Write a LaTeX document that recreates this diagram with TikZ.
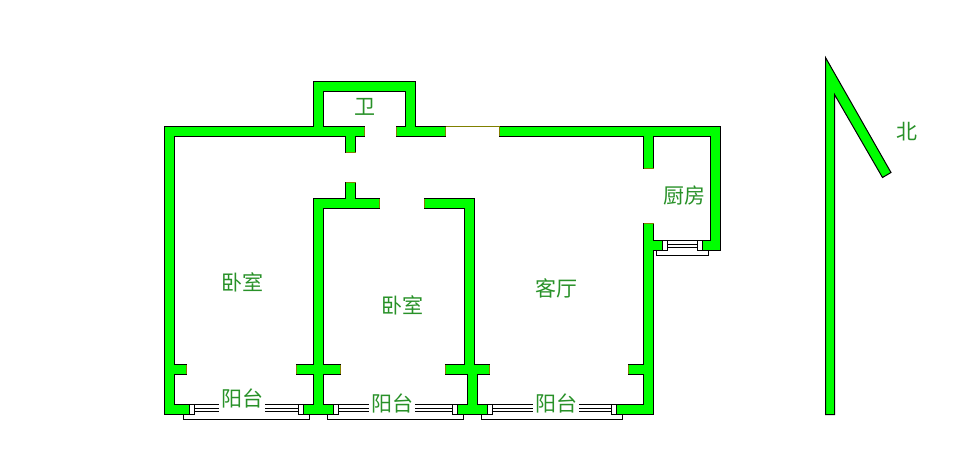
\documentclass[tikz,border=0pt]{standalone}
\usepackage{fontspec}
\newfontfamily\cjk{Noto Sans CJK SC}
\definecolor{wallgreen}{RGB}{0,255,0}
\definecolor{endolive}{RGB}{128,128,0}
\definecolor{labelgreen}{RGB}{40,145,40}
\tikzset{
  wall/.style={draw=black,fill=wallgreen,line width=1pt,line join=miter},
  wallend/.style={draw=endolive,line width=1pt},
  winbox/.style={draw=black,fill=white,line width=1pt},
  winline/.style={draw=black,line width=1pt},
  label/.style={font=\cjk\fontsize{21}{21}\selectfont,text=labelgreen,inner sep=0pt}
}
\newcommand{\winlines}[2]{%
  \draw[winline] (#1,404.5) -- (#2,404.5) (#1,408.5) -- (#2,408.5) (#1,411.5) -- (#2,411.5);}
\begin{document}
\begin{tikzpicture}[x=1pt,y=-1pt]
\useasboundingbox (0,0) rectangle (955,469);
% balconies
\draw[winline] (183.5,414) -- (183.5,419.5) -- (309.5,419.5) -- (309.5,414);
\draw[winline] (327.5,414) -- (327.5,419.5) -- (463.5,419.5) -- (463.5,414);
\draw[winline] (481.5,414) -- (481.5,419.5) -- (622.5,419.5) -- (622.5,414);
\draw[winline] (656.5,250) -- (656.5,255.5) -- (708.5,255.5) -- (708.5,250);
% window lines
\winlines{194.5}{219}\winlines{265}{298}
\winlines{338.5}{369}\winlines{415}{452.5}
\winlines{492.5}{533}\winlines{579}{611}
\draw[winline] (667.5,240.5) -- (697.5,240.5) (667.5,244.5) -- (697.5,244.5) (667.5,247.5) -- (697.5,247.5);
% window boxes
\foreach \a/\b in {189.5/194.5,298.5/303.5,333.5/338.5,452.5/457.5,487.5/492.5,611.5/616.5}
  \draw[winbox] (\a,404.5) rectangle (\b,414.5);
\foreach \a/\b in {662.5/667.5,697.5/702.5}
  \draw[winbox] (\a,240.5) rectangle (\b,250.5);
% walls
\draw[wall] (164.5,126.5) -- (313.5,126.5) -- (313.5,81.5) -- (415.5,81.5) -- (415.5,126.5) -- (445.5,126.5) -- (445.5,136.5) -- (396.5,136.5) -- (396.5,126.5) -- (405.5,126.5) -- (405.5,91.5) -- (323.5,91.5) -- (323.5,126.5) -- (364.5,126.5) -- (364.5,136.5) -- (355.5,136.5) -- (355.5,152.5) -- (345.5,152.5) -- (345.5,136.5) -- (174.5,136.5) -- (174.5,364.5) -- (186.5,364.5) -- (186.5,374.5) -- (174.5,374.5) -- (174.5,404.5) -- (189.5,404.5) -- (189.5,414.5) -- (164.5,414.5) -- cycle;
\draw[wall] (345.5,182.5) -- (355.5,182.5) -- (355.5,198.5) -- (379.5,198.5) -- (379.5,208.5) -- (323.5,208.5) -- (323.5,364.5) -- (340.5,364.5) -- (340.5,374.5) -- (323.5,374.5) -- (323.5,404.5) -- (333.5,404.5) -- (333.5,414.5) -- (303.5,414.5) -- (303.5,404.5) -- (313.5,404.5) -- (313.5,374.5) -- (296.5,374.5) -- (296.5,364.5) -- (313.5,364.5) -- (313.5,198.5) -- (345.5,198.5) -- cycle;
\draw[wall] (424.5,198.5) -- (474.5,198.5) -- (474.5,364.5) -- (489.5,364.5) -- (489.5,374.5) -- (477.5,374.5) -- (477.5,404.5) -- (487.5,404.5) -- (487.5,414.5) -- (457.5,414.5) -- (457.5,404.5) -- (467.5,404.5) -- (467.5,374.5) -- (445.5,374.5) -- (445.5,364.5) -- (464.5,364.5) -- (464.5,208.5) -- (424.5,208.5) -- cycle;
\draw[wall] (499.5,126.5) -- (720.5,126.5) -- (720.5,250.5) -- (702.5,250.5) -- (702.5,240.5) -- (710.5,240.5) -- (710.5,136.5) -- (653.5,136.5) -- (653.5,168.5) -- (643.5,168.5) -- (643.5,136.5) -- (499.5,136.5) -- cycle;
\draw[wall] (643.5,223.5) -- (653.5,223.5) -- (653.5,240.5) -- (662.5,240.5) -- (662.5,250.5) -- (653.5,250.5) -- (653.5,414.5) -- (616.5,414.5) -- (616.5,404.5) -- (643.5,404.5) -- (643.5,374.5) -- (628.5,374.5) -- (628.5,364.5) -- (643.5,364.5) -- cycle;
% olive wall ends
\draw[wallend] (445.5,126.5) -- (499.5,126.5) (445.5,126.5) -- (445.5,136) (499.5,126.5) -- (499.5,136);
\draw[wallend] (364.5,127) -- (364.5,136) (396.5,127) -- (396.5,136);
\draw[wallend] (345.5,152.5) -- (355.5,152.5) (345.5,182.5) -- (355.5,182.5);
\draw[wallend] (379.5,199) -- (379.5,208) (424.5,199) -- (424.5,208);
\draw[wallend] (643.5,168.5) -- (653.5,168.5) (643.5,223.5) -- (653.5,223.5);
\draw[wallend] (186.5,365) -- (186.5,374) (296.5,365) -- (296.5,374) (340.5,365) -- (340.5,374);
\draw[wallend] (445.5,365) -- (445.5,374) (489.5,365) -- (489.5,374) (628.5,365) -- (628.5,374);
% north arrow
\draw[wall] (825.5,57.5) -- (891,172.5) -- (882.5,177.5) -- (834.5,94.5) -- (834.5,414.5) -- (825.5,414.5) -- cycle;
% labels
\node[label] (wei) at (365,106.5) {\cjk 卫};
\node[label] (bei) at (907,132) {\cjk 北};
\node[label] (chufang) at (684,195) {\cjk 厨房};
\node[label] (woshi1) at (242,282) {\cjk 卧室};
\node[label] (woshi2) at (402,305) {\cjk 卧室};
\node[label] (keting) at (556,288) {\cjk 客厅};
\node[label] (yangtai1) at (242,398) {\cjk 阳台};
\node[label] (yangtai2) at (392,403) {\cjk 阳台};
\node[label] (yangtai3) at (556,403) {\cjk 阳台};
\end{tikzpicture}
\end{document}
